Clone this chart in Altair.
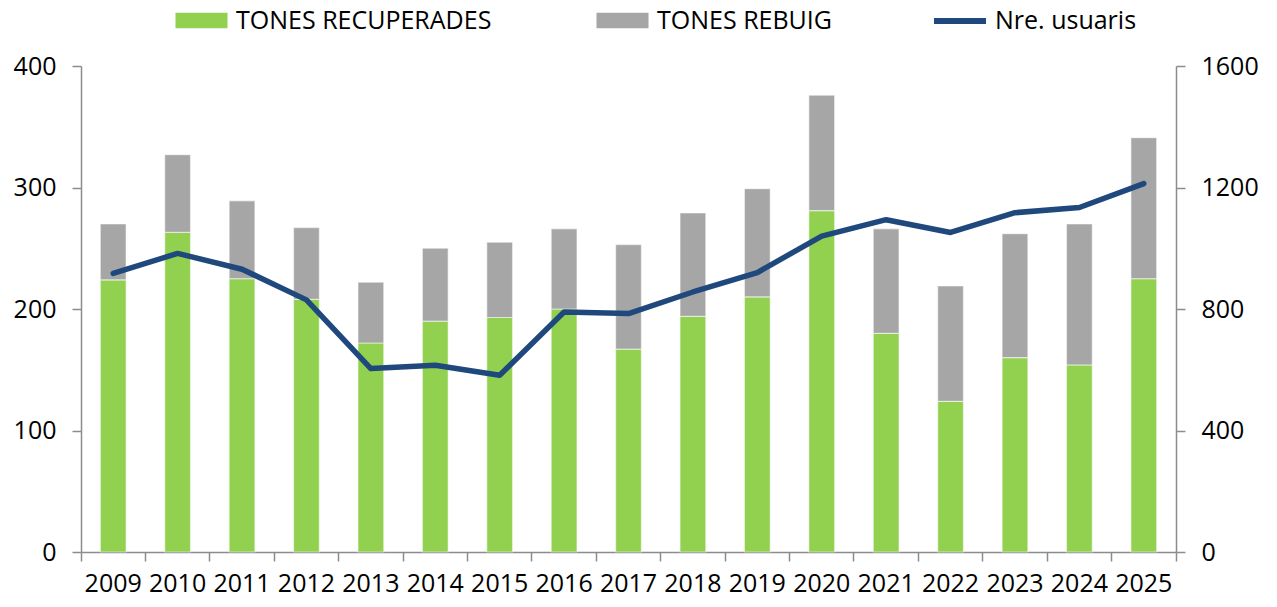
import altair as alt
import pandas as pd

years = [str(y) for y in range(2009, 2026)]
recuperades = [224, 263, 225, 208, 172, 190, 193, 200, 167, 194, 210, 281, 180, 124, 160, 154, 225]
rebuig = [46, 64, 64, 59, 50, 60, 62, 66, 86, 85, 89, 95, 86, 95, 102, 116, 116]
usuaris = [917, 983, 931, 830, 604, 615, 582, 790, 785, 856, 920, 1040, 1094, 1052, 1117, 1134, 1213]

left_ticks = [0, 100, 200, 300, 400]
right_ticks = [0, 400, 800, 1200, 1600]

df = pd.DataFrame({"any": years, "rec": recuperades, "reb": rebuig, "usu": usuaris})

FONT = "Open Sans"
FS = 25
AX = "#8c8c8c"
GREEN = "#92D050"
GRAY = "#A6A6A6"
BLUE = "#1F497D"
W, H = 1095, 486
RECT = "M-2.6,-0.78H2.6V0.78H-2.6Z"
DASH = "M-2.6,0H2.6"
LEG_Y = -58

common_axis = dict(domainColor=AX, tickColor=AX, domainWidth=1.5, tickWidth=1.5,
                   tickSize=9, grid=False, labelFont=FONT, labelFontSize=FS,
                   labelColor="black", title=None)

x_enc = alt.X(
    "any:O",
    scale=alt.Scale(paddingInner=0, paddingOuter=0),
    axis=alt.Axis(labelAngle=0, bandPosition=1, tickExtra=True, labelOffset=0,
                  labelPadding=10, labelOverlap=False, **common_axis),
)

leg_common = dict(orient="none", legendY=LEG_Y, title=None, symbolSize=400,
                  labelLimit=1000, labelFont=FONT, labelFontSize=FS, labelColor="black")

base = alt.Chart(df)

green = base.transform_calculate(lbl="'TONES RECUPERADES'").mark_bar(
    width=alt.RelativeBandSize(0.4), stroke="white", strokeOpacity=0.5, strokeWidth=1.2
).encode(
    x=x_enc,
    y=alt.Y("rec:Q", scale=alt.Scale(domain=[0, 400], nice=False),
            axis=alt.Axis(values=left_ticks, labelPadding=16, **common_axis)),
    color=alt.Color("lbl:N", scale=alt.Scale(domain=["TONES RECUPERADES"], range=[GREEN]),
                    legend=alt.Legend(legendX=108, symbolType=RECT, labelOffset=22,
                                      symbolStrokeWidth=0, symbolOpacity=1, **leg_common)),
)

gray = base.transform_calculate(lbl2="'TONES REBUIG'", top="datum.rec + datum.reb").mark_bar(
    width=alt.RelativeBandSize(0.4), stroke="white", strokeOpacity=0.5, strokeWidth=1.2
).encode(
    x=x_enc,
    y=alt.Y("rec:Q", scale=alt.Scale(domain=[0, 400], nice=False),
            axis=alt.Axis(values=left_ticks, labelPadding=16, **common_axis)),
    y2="top:Q",
    color=alt.Color("lbl2:N", scale=alt.Scale(domain=["TONES REBUIG"], range=[GRAY]),
                    legend=alt.Legend(legendX=529, symbolType=RECT, labelOffset=22,
                                      symbolStrokeWidth=0, symbolOpacity=1, **leg_common)),
)

bars = alt.layer(green, gray).resolve_scale(color="independent")

line = base.transform_calculate(lbl3="'Nre. usuaris'").mark_line(
    strokeWidth=5.5, strokeCap="round", strokeJoin="round"
).encode(
    x=x_enc,
    y=alt.Y("usu:Q", scale=alt.Scale(domain=[0, 1600], nice=False),
            axis=alt.Axis(orient="right", values=right_ticks, format="d",
                          labelPadding=16, **common_axis)),
    stroke=alt.Stroke("lbl3:N", scale=alt.Scale(domain=["Nre. usuaris"], range=[BLUE]),
                      legend=alt.Legend(legendX=866, symbolType=DASH, symbolStrokeWidth=6,
                                        labelOffset=22, **leg_common)),
)

chart = alt.layer(bars, line).resolve_scale(y="independent", color="independent").properties(
    width=W, height=H, padding={"left": 5, "top": 0, "right": 5, "bottom": 5}
).configure_view(stroke=None).configure_legend(padding=0)

chart.save("out.html", embed_options={"renderer": "svg", "actions": False})
